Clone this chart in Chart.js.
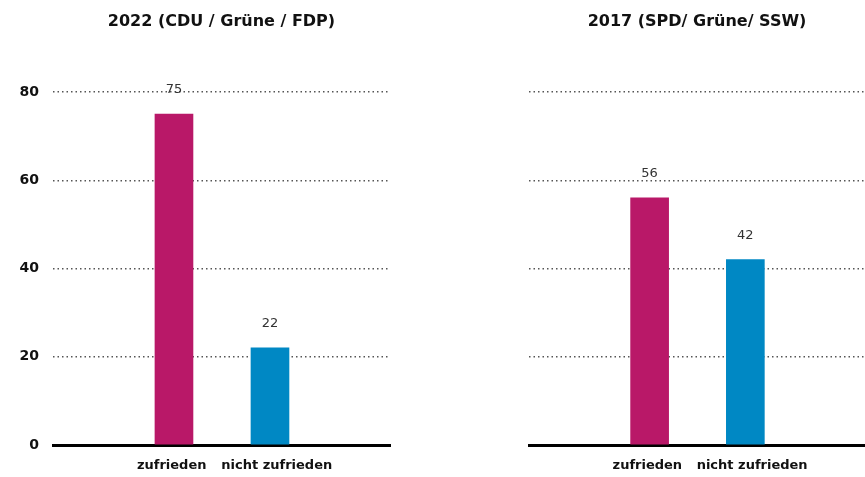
<!DOCTYPE html>
<html>
<head>
<meta charset="utf-8">
<script src="https://cdn.jsdelivr.net/npm/chart.js@4"></script>
<style>
  html, body { margin: 0; padding: 0; background: #fff; }
  .panel { position: absolute; top: 0; height: 477px; }
  #left { left: 0; width: 430px; }
  #right { left: 440px; width: 425px; }
</style>
</head>
<body>
<div class="panel" id="left"><canvas id="c2022"></canvas></div>
<div class="panel" id="right"><canvas id="c2017"></canvas></div>
<script>
const categories = ['zufrieden', 'nicht zufrieden'];
const values2022 = [75, 22];
const values2017 = [56, 42];
const yTicks = [0, 20, 40, 60, 80];
const title2022 = '2022 (CDU / Grüne / FDP)';
const title2017 = '2017 (SPD/ Grüne/ SSW)';
const barColors = ['#b91868', '#0088c4'];

const fontFamily = '"DejaVu Sans", sans-serif';

// titel über der plotfläche zentriert
const panelTitle = {
  id: 'panelTitle',
  afterDraw(chart, args, opts) {
    const {ctx, chartArea} = chart;
    ctx.save();
    ctx.font = 'bold 16px ' + fontFamily;
    ctx.fillStyle = '#111';
    ctx.textAlign = 'center';
    ctx.textBaseline = 'middle';
    ctx.fillText(opts.text, (chartArea.left + chartArea.right) / 2, 22);
    ctx.restore();
  }
};

// werte über den balken
const valueLabels = {
  id: 'valueLabels',
  afterDatasetsDraw(chart) {
    const {ctx} = chart;
    ctx.save();
    ctx.font = '13px ' + fontFamily;
    ctx.fillStyle = '#333';
    ctx.textAlign = 'center';
    ctx.textBaseline = 'middle';
    chart.getDatasetMeta(0).data.forEach((bar, i) => {
      ctx.fillText(chart.data.datasets[0].data[i].y, bar.x, bar.y - 24);
    });
    ctx.restore();
  }
};

// beschriftungen etwas auseinander schieben, wie im original
const tickText = v => {
  if (v === 0) return categories[0] + ' ';
  if (v === 1) return '   ' + categories[1];
  return '';
};

function makeChart(id, values, title, showY, yWidth, padRight) {
  return new Chart(document.getElementById(id), {
    type: 'bar',
    data: {
      datasets: [{
        data: values.map((v, i) => ({x: i, y: v})),
        backgroundColor: barColors,
        barThickness: 38,
      }]
    },
    options: {
      responsive: true,
      maintainAspectRatio: false,
      animation: false,
      layout: { padding: { top: 92, right: padRight, left: 0, bottom: 0 } },
      plugins: {
        legend: { display: false },
        tooltip: { enabled: false },
        panelTitle: { text: title },
      },
      scales: {
        x: {
          type: 'linear',
          offset: false,
          min: -1.26,
          max: 2.25,
          afterBuildTicks: s => { s.ticks = categories.map((c, i) => ({value: i})); },
          afterFit: s => { s.height = 32; },
          grid: { display: false, drawTicks: false, offset: false },
          border: { display: true, color: '#000', width: 3 },
          ticks: {
            autoSkip: false,
            maxRotation: 0,
            padding: 13,
            color: '#111',
            font: { family: fontFamily, size: 13, weight: 'bold' },
            callback: tickText,
          }
        },
        y: {
          min: 0,
          max: 80,
          afterBuildTicks: s => { s.ticks = yTicks.map(v => ({value: v})); },
          afterFit: s => { s.width = yWidth; },
          grid: { color: '#555', lineWidth: 1.5, drawTicks: false },
          border: { display: false, dash: [1.5, 3] },
          ticks: {
            display: showY,
            padding: 14,
            color: '#111',
            font: { family: fontFamily, size: 14, weight: 'bold' },
          }
        }
      }
    },
    plugins: [panelTitle, valueLabels]
  });
}

makeChart('c2022', values2022, title2022, true, 53, 40);
makeChart('c2017', values2017, title2017, false, 89, 0);
</script>
</body>
</html>
